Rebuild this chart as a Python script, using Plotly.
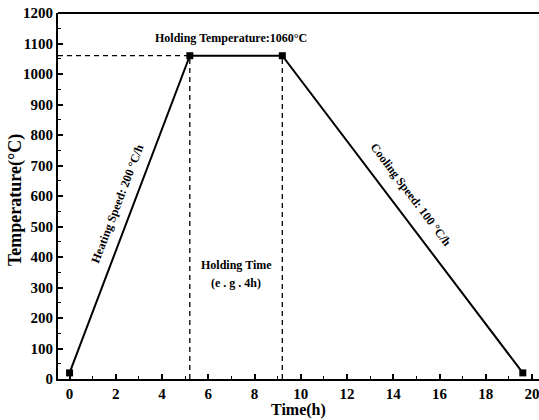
import plotly.graph_objects as go

# Heat-treatment schedule: start, end of heating, end of holding, end of cooling
time_h = [0, 5.2, 9.2, 19.6]
temp_c = [20, 1060, 1060, 20]
holding_temp = 1060
x_ticks = [0, 2, 4, 6, 8, 10, 12, 14, 16, 18, 20]
y_ticks = [0, 100, 200, 300, 400, 500, 600, 700, 800, 900, 1000, 1100, 1200]

FONT = "Liberation Serif"

fig = go.Figure()

# Guide lines for the holding temperature and holding interval
fig.add_trace(go.Scatter(
    x=[-0.5, time_h[1]], y=[holding_temp, holding_temp], mode="lines",
    line=dict(color="black", width=1.3, dash="5px,4px"), hoverinfo="skip", showlegend=False))
for t in (time_h[1], time_h[2]):
    fig.add_trace(go.Scatter(
        x=[t, t], y=[0, holding_temp], mode="lines",
        line=dict(color="black", width=1.3, dash="5px,4px"), hoverinfo="skip", showlegend=False))

# Temperature profile
fig.add_trace(go.Scatter(
    x=time_h, y=temp_c, mode="lines+markers",
    line=dict(color="black", width=2),
    marker=dict(symbol="square", size=7, color="black"),
    showlegend=False))

bold = dict(family=FONT, size=12, color="black")
mid_hold = (time_h[1] + time_h[2]) / 2
fig.add_annotation(x=mid_hold - 0.2, y=1118, text="<b>Holding Temperature:1060°C</b>",
                   showarrow=False, font=bold)
fig.add_annotation(x=mid_hold, y=374, text="<b>Holding Time</b>",
                   showarrow=False, font=bold)
fig.add_annotation(x=mid_hold, y=315, text="<b>(e . g . 4h)</b>",
                   showarrow=False, font=bold)
fig.add_annotation(x=2.05, y=575, text="<b>Heating Speed: 200 °C/h</b>",
                   showarrow=False, font=bold, textangle=-69)
fig.add_annotation(x=14.73, y=605, text="<b>Cooling Speed: 100 °C/h</b>",
                   showarrow=False, font=bold, textangle=53)

# Axis titles
fig.add_annotation(x=0.5, y=-0.084, xref="x domain", yref="y domain",
                   xanchor="center", yanchor="middle",
                   text="<b>Time(h)</b>", showarrow=False,
                   font=dict(family=FONT, size=16, color="black"))
fig.add_annotation(x=-0.0894, y=0.489, xref="x domain", yref="y domain",
                   xanchor="center", yanchor="middle",
                   text="<b>Temperature(°C)</b>", showarrow=False, textangle=-90,
                   font=dict(family=FONT, size=18, color="black"))

# Top frame line
fig.add_shape(type="line", xref="paper", yref="paper", x0=0, x1=1, y0=1, y1=1,
              line=dict(color="black", width=2))

axis_common = dict(
    showgrid=False, zeroline=False, showline=True, linecolor="black", linewidth=2,
    ticks="inside", tickcolor="black", tickwidth=1.5, ticklen=5,
    tickfont=dict(family=FONT, size=15, color="black"),
    ticklabeloverflow="allow",
)
fig.update_xaxes(range=[-0.5, 20.3], tickvals=x_ticks,
                 ticktext=[f"<b>{v}</b>" for v in x_ticks],
                 minor=dict(ticks="inside", ticklen=3, tickwidth=1.2, tickcolor="black", dtick=1, tick0=1),
                 **axis_common)
fig.update_yaxes(range=[0, 1200], tickvals=y_ticks,
                 ticktext=[f"<b>{v}</b>" for v in y_ticks],
                 minor=dict(ticks="inside", ticklen=3, tickwidth=1.2, tickcolor="black", dtick=50, tick0=50),
                 **axis_common)

fig.update_layout(
    width=539, height=420,
    margin=dict(l=58, r=0, t=13, b=41),
    plot_bgcolor="white", paper_bgcolor="white",
    font=dict(family=FONT, color="black"),
)

fig.write_html("out.html")
